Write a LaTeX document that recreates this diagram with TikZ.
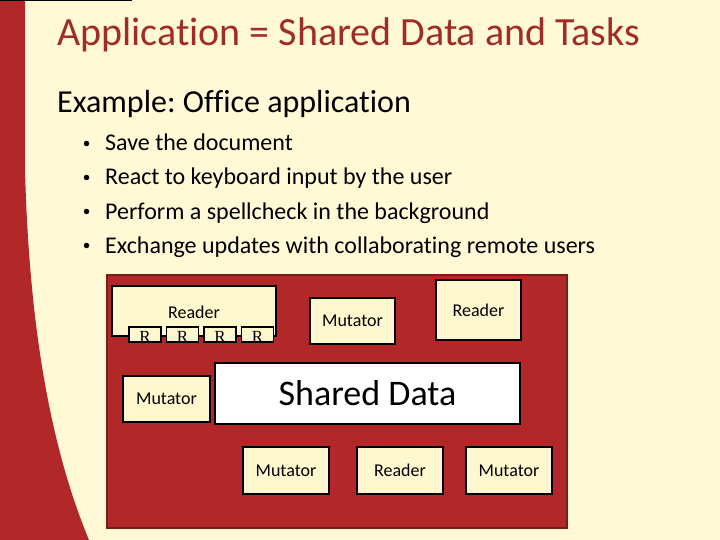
\documentclass[tikz,border=0pt]{standalone}
\usepackage{fontspec}
\setmainfont[Ligatures=NoCommon]{Carlito}
\newfontfamily\rfont{Liberation Serif}
\usetikzlibrary{positioning}
\frenchspacing
\definecolor{slidebg}{RGB}{255,249,214}
\definecolor{slidered}{RGB}{178,40,40}
\definecolor{darkred}{RGB}{120,28,28}
\definecolor{titlered}{RGB}{160,44,40}
\definecolor{boxfill}{RGB}{255,247,206}

\begin{document}
\begin{tikzpicture}[
    x=1pt, y=-1pt,
    box/.style={draw=black, line width=1.8pt, fill=boxfill, align=center, minimum width=85pt, minimum height=46pt, inner sep=0pt, font=\fontsize{18}{20}\selectfont},
    rbox/.style={draw=black, line width=1.5pt, fill=boxfill, minimum width=32pt, minimum height=15pt, inner sep=0pt,
      path picture={\node[anchor=center, font=\rfont\fontsize{17}{17}\selectfont, inner sep=0pt] at ([yshift=-2pt]path picture bounding box.center) {R};}},
    bullet/.style={circle, fill=black, minimum size=5.5pt, inner sep=0pt},
    item/.style={anchor=base west, inner sep=0pt, font=\fontsize{24}{28}\selectfont}
]
\useasboundingbox (0,0) rectangle (720,540);
\fill[slidebg] (0,0) rectangle (720,540);
\fill[slidered] (0,0) -- (25,0) -- (25,170) .. controls (30,360) and (60,470) .. (89,540) -- (0,540) -- cycle;
\draw[black, line width=1pt] (0,0.5) -- (132,0.5);

\node[anchor=base west, inner sep=0pt, text=titlered, font=\fontsize{40}{44}\selectfont] (title) at (57,46) {Application = Shared Data and Tasks};
\node[anchor=base west, inner sep=0pt, font=\fontsize{32}{36}\selectfont] (sub) at (57,113) {Example: Office application};

\foreach \y/\txt [count=\i] in {151/Save the document, 185/React to keyboard input by the user, 219/Perform a spellcheck in the background, 253/Exchange updates with collaborating remote users}{
  \node[bullet] (dot\i) at (86.5,\y-7.5) {};
  \node[item] (item\i) at (105,\y) {\txt};
}

\node[draw=darkred, line width=1.5pt, fill=slidered, minimum width=460pt, minimum height=253pt, inner sep=0pt] (frame) at (337,401.5) {};

\node[box, minimum width=164pt, minimum height=50pt] (readbig) at (194,311) {};
\node (readbiglbl) at (194,312) [font=\fontsize{18}{20}\selectfont] {Reader};
\node[rbox] (r1) at (145,334.5) {};
\node[rbox, right=4pt of r1] (r2) {};
\node[rbox, right=4pt of r2] (r3) {};
\node[rbox, right=4pt of r3] (r4) {};

\node[box] (mutA) at (352.5,321) {Mutator};
\node[box, minimum height=60pt] (readB) at (478.5,310) {Reader};
\node[box, fill=white, minimum width=305pt, minimum height=61pt, font=\fontsize{36}{40}\selectfont] (shared) at (367.5,393.5) {Shared Data};
\node[box, minimum width=87pt] (mutC) at (166.5,399) {Mutator};
\node[box, minimum width=86pt, minimum height=47pt] (mutD) at (286,470.5) {Mutator};
\node[box, minimum width=86pt, minimum height=47pt] (readE) at (400,470.5) {Reader};
\node[box, minimum width=86pt, minimum height=47pt] (mutF) at (509,470.5) {Mutator};
\end{tikzpicture}
\end{document}
